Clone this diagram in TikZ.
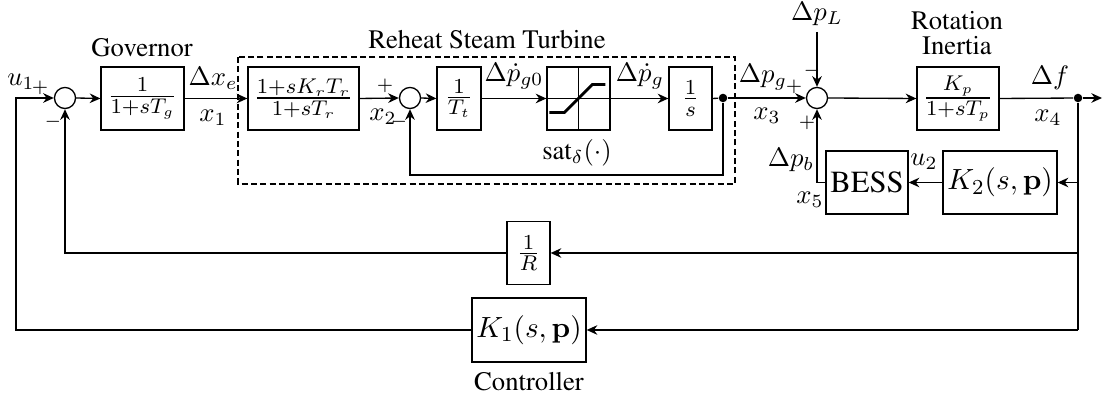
\documentclass[tikz,border=0pt]{standalone}
\usepackage[T1]{fontenc}
\renewcommand{\rmdefault}{ptm}
\usepackage{amsmath}
\usetikzlibrary{arrows.meta,calc}
\begin{document}
\begin{tikzpicture}[x=0.375pt,y=-0.375pt,
  every path/.style={line width=0.5pt},
  wire/.style={-{Stealth[length=4pt,width=3.6pt,inset=1.3pt]}},
  blk/.style={draw,minimum height=23.6pt,inner sep=0pt,font=\fontsize{11}{13}\selectfont},
  sumj/.style={draw,circle,minimum size=7.9pt,inner sep=0pt},
  lab/.style={inner sep=0pt},
  sgn/.style={inner sep=0pt,font=\scriptsize},
  ttl/.style={inner sep=0pt,font=\fontsize{10}{12}\selectfont},
  dot/.style={circle,fill,inner sep=0pt,minimum size=3.2pt}]
\useasboundingbox (0,0) rectangle (1109,401);

% dashed turbine frame
\draw[dash pattern=on 2.2pt off 1.3pt] (238,57) rectangle (735,184);

% summing junctions
\node[sumj] (s1) at (65,98) {};
\node[sumj] (s2) at (410,98) {};
\node[sumj] (s3) at (817,98) {};

% blocks
\node[blk,minimum width=31.1pt] (gov) at (142.5,98.5) {$\frac{1}{1+sT_g}$};
\node[blk,minimum width=41.6pt] (rh) at (303.5,98.5) {$\frac{1+sK_rT_r}{1+sT_r}$};
\node[blk,minimum width=16.5pt] (tt) at (459,98.5) {$\frac{1}{T_t}$};
\node[blk,minimum width=23.6pt] (sat) at (578.5,98.5) {};
\node[blk,minimum width=16.1pt] (int) at (690.5,98.5) {$\frac{1}{s}$};
\node[blk,minimum width=30.75pt] (kp) at (958,98.5) {$\frac{K_p}{1+sT_p}$};
\node[blk,minimum width=30.75pt,font=\fontsize{11.5}{13}\selectfont] (bess) at (867,182.5) {BESS};
\node[blk,minimum width=42.75pt] (k2) at (1000,182.5) {$K_2(s,\mathbf{p})$};
\node[blk,minimum width=16.1pt] (r) at (528.5,253) {$\frac{1}{R}$};
\node[blk,minimum width=42.75pt,minimum height=24pt] (k1) at (529,330) {$K_1(s,\mathbf{p})$};

% saturation symbol
\draw[line width=0.35pt] (sat.north) -- (sat.south);
\draw[line width=0.35pt] (sat.west) -- (sat.east);
\draw[line width=1pt] ($(sat.west)+(3,14)$) -- ++(15,0) -- ++(28,-28) -- ++(13,0);

% coordinates
\coordinate (in) at (16,98);
\node[dot] (j1) at (723,98) {};
\node[dot] (j2) at (1078,98) {};
\coordinate (fb) at (723,175);
\coordinate (out) at (1102,98);
\coordinate (dpl) at (817,32);
\coordinate (bot) at (1078,330);

% forward path
\draw[wire] (s1.east) -- (gov.west);
\draw[wire] (gov.east) -- (rh.west);
\draw[wire] (rh.east) -- (s2.west);
\draw[wire] (s2.east) -- (tt.west);
\draw[wire] (tt.east) -- (sat.west);
\draw[wire] (sat.east) -- (int.west);
\draw (int.east) -- (j1);
\draw[wire] (j1) -- (s3.west);
\draw[wire] (j1) -- (fb) -| (s2.south);
\draw[wire] (dpl) -- (s3.north);
\draw[wire] (s3.east) -- (kp.west);
\draw (kp.east) -- (j2);
\draw[wire] (j2) -- (out);

% feedback paths
\draw (j2) -- (bot);
\draw[wire] (j2 |- k2.east) -- (k2.east);
\draw[wire] (k2.west) -- (bess.east);
\draw[wire] (bess.west) -| (s3.south);
\draw[wire] (j2 |- r.east) -- (r.east);
\draw[wire] (r.west) -| (s1.south);
\draw[wire] (bot) -- (k1.east);
\draw[wire] (k1.west) -| (in) -- (s1.west);

% titles
\node[ttl] (tgov) at (142,48) {Governor};
\node[ttl] (trh) at (487,40) {Reheat Steam Turbine};
\node[ttl] (trot) at (957,21) {Rotation};
\node[ttl] (tin) at (957,46) {Inertia};
\node[ttl] (tctl) at (529,382) {Controller};

% signal labels
\node[lab] (lu1) at (21,82) {$u_1$};
\node[sgn] (p1) at (40,88) {$+$};
\node[sgn] (m1) at (53,122) {$-$};
\node[lab] (ldxe) at (213,78) {$\Delta x_e$};
\node[lab] (lx1) at (213,118) {$x_1$};
\node[sgn] (p2) at (385,86) {$+$};
\node[lab] (lx2) at (383,117) {$x_2$};
\node[sgn] (m2) at (399,122) {$-$};
\node[lab] (ldpg0) at (514,76) {$\Delta \dot{p}_{g0}$};
\node[lab] (ldpg) at (640,76) {$\Delta \dot{p}_g$};
\node[lab] (lsat) at (577,153) {sat$_\delta(\cdot)$};
\node[lab] (ldpgg) at (763,77) {$\Delta p_g$};
\node[sgn] (p3) at (794,87) {$+$};
\node[sgn] (m3) at (812,71) {$-$};
\node[sgn] (p4) at (807,123) {$+$};
\node[lab] (lx3) at (767,116) {$x_3$};
\node[lab] (ldpl) at (817,14) {$\Delta p_L$};
\node[lab] (ldf) at (1050,78) {$\Delta f$};
\node[lab] (lx4) at (1048,118) {$x_4$};
\node[lab] (ldpb) at (791,160) {$\Delta p_b$};
\node[lab] (lu2) at (924,162) {$u_2$};
\node[lab] (lx5) at (810,200) {$x_5$};
\end{tikzpicture}
\end{document}
